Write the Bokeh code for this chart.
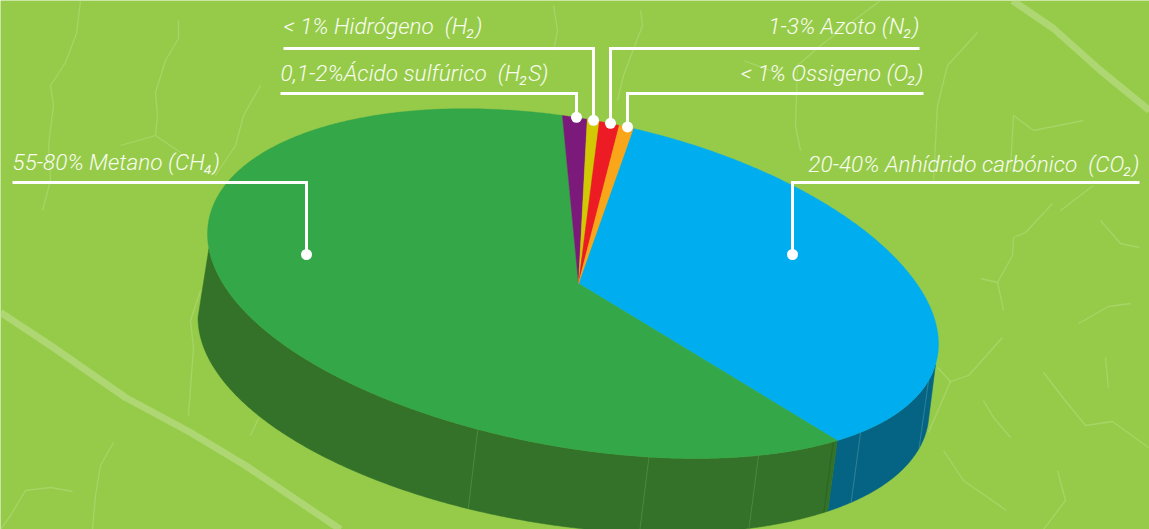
import numpy as np
from bokeh.plotting import figure
from bokeh.models import Range1d
from bokeh.core.properties import value
from bokeh.embed import file_html
from bokeh.resources import INLINE

# ---- data (clockwise from the CO2 slice) ----
gases = ["CO2", "CH4", "H2S", "H2", "N2", "O2"]
shares = [34.5, 62.4, 1.08, 0.53, 0.87, 0.62]
top_colors = ["#00AEEF", "#34A748", "#7B1A7B", "#D2C904", "#ED1C24", "#FAA61A"]
side_colors = ["#056483", "#337228"]

labels = ["20-40% Anhídrido carbónico\u00a0 (CO₂)", "55-80% Metano (CH₄)",
          "0,1-2%Ácido sulfúrico\u00a0 (H₂S)", "< 1% Hidrógeno\u00a0 (H₂)",
          "1-3% Azoto (N₂)", "< 1% Ossigeno (O₂)"]

# ---- layout ----
W, H = 1149, 529
BG = "#96CB4A"
START = -80.5
APEX = (578.0, 283.0)
TOP = dict(c=(572.5, 285.5), a=(365.5, 55.0), b=(0.0, 166.0), h=3.0)
BOTTOM = dict(c=(563.0, 362.0), a=(365.5, 47.0), b=(0.0, 166.0), h=2.0)
SEAMS = [13.4, 38.1, 44.6, 59.5, 78.0, 105.1]

# label anchor, leader: (text x, baseline, align, line y, line start x, elbow x)
LEADERS = {
    "CO2": (1139, 164, "right", 182, 1139, 792),
    "CH4": (12, 162, "left", 182, 12, 306),
    "H2S": (280, 73, "left", 93, 280, 576),
    "H2": (283, 26, "left", 48, 283, 593),
    "N2": (919, 26, "right", 48, 919, 610),
    "O2": (923, 73, "right", 93, 923, 627),
}
BIG_DOTS = {"CO2": (792, 254), "CH4": (306, 254)}

VEINS_THICK = [
    [(0, 312), (50, 345), (125, 397), (190, 432), (245, 465), (340, 529)],
    [(1012, 0), (1053, 28), (1100, 70), (1149, 110)],
]
VEINS_THIN = [
    [(80, 0), (76, 33), (65, 62), (50, 85), (53, 105), (48, 145), (50, 180), (42, 210)],
    [(178, 20), (178, 38), (165, 60), (155, 92), (157, 115), (155, 135), (120, 145)],
    [(155, 135), (180, 152)],
    [(260, 85), (243, 115), (235, 145), (215, 175)],
    [(200, 290), (190, 320), (193, 347), (188, 415)],
    [(258, 418), (250, 435)],
    [(113, 442), (100, 465), (95, 495), (92, 529)],
    [(72, 491), (50, 487), (25, 490), (10, 515), (0, 529)],
    [(1093, 185), (1077, 197), (1060, 210)],
    [(1052, 203), (1025, 232), (1013, 237), (1012, 255), (997, 282), (980, 278)],
    [(997, 282), (1001, 300), (1003, 310)],
    [(1130, 303), (1108, 306), (1078, 323)],
    [(1100, 220), (1120, 243), (1139, 247)],
    [(1002, 337), (968, 375), (950, 381), (937, 367)],
    [(950, 381), (928, 432)],
    [(1043, 372), (1063, 398), (1085, 425), (1112, 421), (1148, 447)],
    [(1105, 357), (1108, 388)],
    [(1057, 470), (1065, 500), (1043, 529)],
    [(983, 400), (993, 417), (1010, 437)],
    [(943, 450), (963, 480), (1006, 510)],
    [(553, 5), (557, 30), (553, 50)],
    [(640, 10), (642, 25), (623, 75), (617, 100)],
    [(880, 0), (820, 45), (797, 65), (795, 125), (800, 150)],
    [(743, 60), (783, 75)],
    [(1083, 120), (1033, 130), (1013, 115), (1010, 170)],
    [(977, 32), (947, 65), (937, 105), (933, 180)],
]
VEIN_COLOR = "#C6E49C"
FONT = "Roboto Light"


def ell(e, deg):
    t = np.radians(np.asarray(deg, dtype=float))
    x = e["c"][0] + e["a"][0] * np.cos(t) + e["b"][0] * np.sin(t)
    y = e["c"][1] + e["a"][1] * np.cos(t) + e["b"][1] * np.sin(t) + e["h"] * np.cos(2 * t)
    return x, y


def arc(t0, t1):
    return np.linspace(t0, t1, max(int(abs(t1 - t0) * 2), 2) + 1)


angles = np.cumsum([0.0] + [s / sum(shares) * 360.0 for s in shares]) + START

p = figure(width=W, height=H, output_backend="svg", toolbar_location=None,
           x_range=Range1d(0, W), y_range=Range1d(H, 0), min_border=0,
           background_fill_color=BG, border_fill_color=BG, outline_line_color=None,
           styles={"position": "absolute", "left": "0", "top": "0"})
p.axis.visible = False
p.grid.visible = False

# leaf texture
p.multi_line([[q[0] for q in v] for v in VEINS_THICK], [[q[1] for q in v] for v in VEINS_THICK],
             line_color=VEIN_COLOR, line_alpha=0.5, line_width=7, line_join="round")
p.multi_line([[q[0] for q in v] for v in VEINS_THIN], [[q[1] for q in v] for v in VEINS_THIN],
             line_color=VEIN_COLOR, line_alpha=0.35, line_width=1.3, line_join="round")

# side walls: the CO2 and CH4 slices only show at the front
b = angles[1]
for (t_top, t_bot, col) in [((7.3, b), (3.0, b), side_colors[0]),
                            ((b, 175.0), (b, 180.0), side_colors[1])]:
    tx, ty = ell(TOP, arc(*t_top))
    bx, by = ell(BOTTOM, arc(*t_bot))
    p.patch(np.r_[tx, bx[::-1]], np.r_[ty, by[::-1]], fill_color=col, line_color=col, line_width=0.5)

# seams on the wall
sx0, sy0 = ell(TOP, SEAMS)
sx1, sy1 = ell(BOTTOM, SEAMS)
seam_cols = ["#3F8FA0", "#3F8FA0", "#2A5E22", "#57904C", "#57904C", "#57904C"]
p.segment(sx0, sy0, sx1, sy1, line_color=seam_cols, line_width=1, line_alpha=0.7)

# top face
xs, ys = [], []
for i in range(len(gases)):
    ax, ay = ell(TOP, arc(angles[i], angles[i + 1]))
    xs.append(np.r_[APEX[0], ax])
    ys.append(np.r_[APEX[1], ay])
p.patches(xs, ys, fill_color=top_colors, line_color=top_colors, line_width=0.4)

# leaders, dots, labels
mids = (angles[:-1] + angles[1:]) / 2
for i, g in enumerate(gases):
    tx, base, align, ly, x0, xe = LEADERS[g]
    if g in BIG_DOTS:
        dx, dy = BIG_DOTS[g]
    else:
        dx, dy = ell(TOP, mids[i])
        dx, dy = float(dx) + 1.5, float(dy)
    p.line([x0, xe, xe], [ly, ly, dy], line_color="white", line_width=3, line_join="miter")
    p.scatter([xe], [dy], size=11, fill_color="white", line_color=None)
    p.text([tx], [base], text=[labels[i]], text_color="#F8FCEF", text_font=value(FONT),
           text_font_style="italic", text_font_size="22.6px", text_align=align,
           text_baseline="alphabetic")

open("out.html", "w").write(file_html(p, INLINE))
